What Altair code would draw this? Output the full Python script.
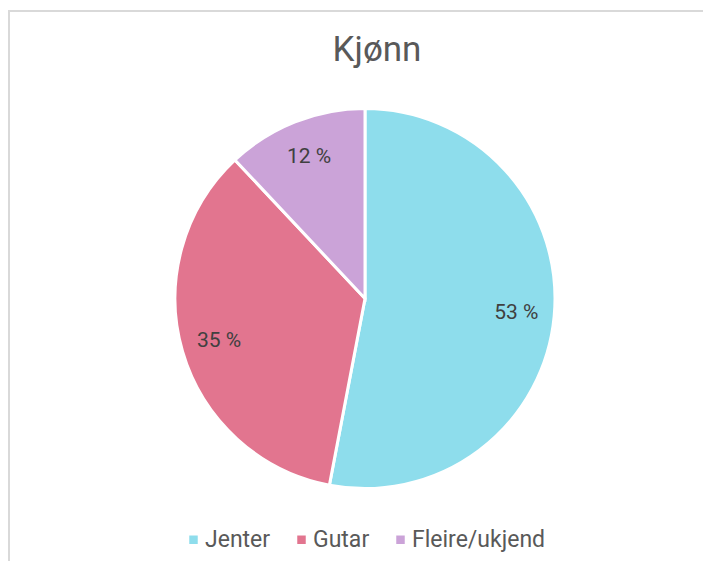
import altair as alt
import pandas as pd

categories = ["Jenter", "Gutar", "Fleire/ukjend"]
values = [53, 35, 12]
labels = ["53 %", "35 %", "12 %"]
colors = ["#8EDDEC", "#E2758F", "#CBA3D8"]
title_text = "Kjønn"

df = pd.DataFrame({"kat": categories, "verdi": values, "label": labels, "ordning": [0, 1, 2]})

W, H = 695, 553
cx, cy, R = 357, 290.5, 190

base = alt.Chart(df).encode(
    theta=alt.Theta("verdi:Q", stack=True),
    order=alt.Order("ordning:Q"),
)

pie = base.mark_arc(radius=R, stroke="white", strokeWidth=3).encode(
    x=alt.value(cx), y=alt.value(cy),
    color=alt.Color("kat:N", sort=categories,
                    scale=alt.Scale(domain=categories, range=colors),
                    legend=alt.Legend(title=None, orient="none", direction="horizontal",
                                      legendX=174, legendY=520, symbolType="square",
                                      symbolSize=72, symbolStrokeWidth=0,
                                      labelFontSize=23, labelColor="#595959",
                                      labelFont="Roboto", columnPadding=19,
                                      labelOffset=0)),
)

text = base.mark_text(radius=152, fontSize=21, font="Roboto", color="#404040").encode(
    x=alt.value(cx), y=alt.value(cy),
    text="label:N",
)

title_df = pd.DataFrame({"t": [title_text]})
title = alt.Chart(title_df).mark_text(fontSize=35, font="Roboto", color="#595959",
                                      baseline="alphabetic", align="center").encode(
    x=alt.value(369), y=alt.value(53), text="t:N")

border_top = alt.Chart(title_df).mark_rule(color="#d9d9d9", strokeWidth=2).encode(
    x=alt.value(0), x2=alt.value(W), y=alt.value(3))
border_left = alt.Chart(title_df).mark_rule(color="#d9d9d9", strokeWidth=2).encode(
    x=alt.value(1), y=alt.value(2), y2=alt.value(H))

chart = alt.layer(border_top, border_left, pie, text, title).properties(
    width=W, height=H, padding=0, autosize=alt.AutoSizeParams(type="none"),
    background="white",
).configure_view(stroke=None)

chart.save("out.html", embed_options={"renderer": "svg", "actions": False})
